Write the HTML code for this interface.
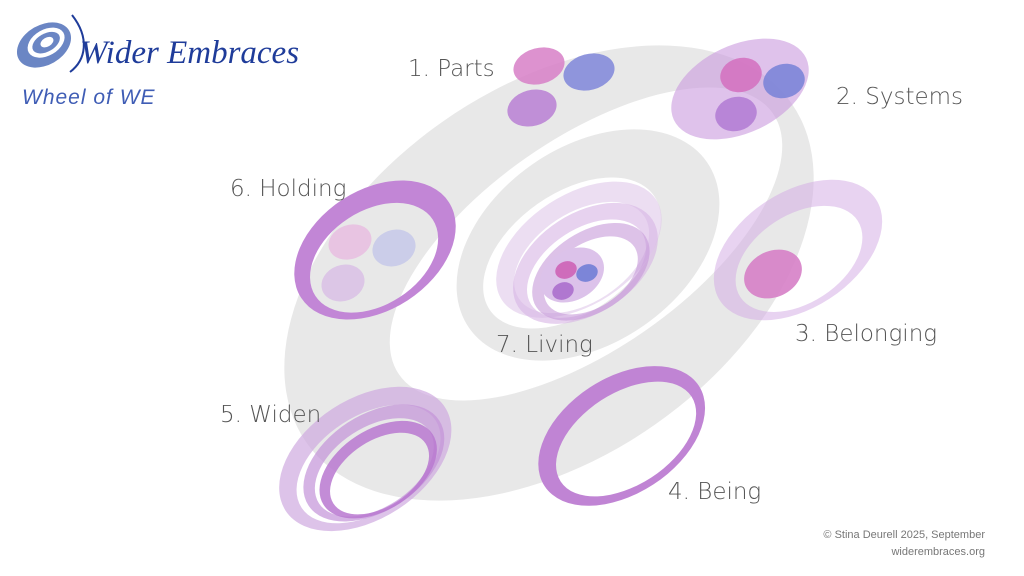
<!DOCTYPE html>
<html><head><meta charset="utf-8"><style>
body{margin:0;background:#fff;width:1024px;height:576px;overflow:hidden;font-family:"Liberation Sans",sans-serif}
svg{display:block}
</style></head><body>
<svg width="1024" height="576" viewBox="0 0 1024 576" xmlns="http://www.w3.org/2000/svg">
<!-- grey spiral -->
<ellipse cx="549" cy="273" rx="296" ry="185" fill="#e8e8e8" transform="rotate(-35 549 273)"/>
<ellipse cx="586" cy="244" rx="228" ry="105" fill="#fff" transform="rotate(-35 586 244)"/>
<ellipse cx="588" cy="245" rx="145" ry="98" fill="#e8e8e8" transform="rotate(-35 588 245)"/>
<ellipse cx="572" cy="253" rx="100" ry="60" fill="#fff" transform="rotate(-35 572 253)"/>
<!-- Parts -->
<ellipse cx="539" cy="66" rx="26" ry="18" fill="#d77fc7" opacity=".85" transform="rotate(-15 539 66)"/>
<ellipse cx="589" cy="72" rx="26" ry="18" fill="#7f86d9" opacity=".85" transform="rotate(-15 589 72)"/>
<ellipse cx="532" cy="108" rx="25" ry="18" fill="#b87fd3" opacity=".85" transform="rotate(-15 532 108)"/>
<!-- Systems -->
<ellipse cx="740" cy="89" rx="73" ry="44" fill="#c99ade" opacity=".6" transform="rotate(-25 740 89)"/>
<ellipse cx="741" cy="75" rx="21" ry="17" fill="#d36fbe" opacity=".85" transform="rotate(-15 741 75)"/>
<ellipse cx="784" cy="81" rx="21" ry="17" fill="#7c85d8" opacity=".9" transform="rotate(-15 784 81)"/>
<ellipse cx="736" cy="114" rx="21" ry="17" fill="#b27ad3" opacity=".85" transform="rotate(-15 736 114)"/>
<!-- Belonging -->
<g transform="rotate(-33 798 250)" opacity=".5">
<path fill-rule="evenodd" fill="#d2a7e3" d="M705,250 a93,58 0 1,0 186,0 a93,58 0 1,0 -186,0 Z M724,258 a70,44 0 1,0 140,0 a70,44 0 1,0 -140,0 Z"/>
</g>
<ellipse cx="773" cy="274" rx="30" ry="23" fill="#d67fc6" opacity=".9" transform="rotate(-25 773 274)"/>
<!-- Holding -->
<g transform="rotate(-33 375 250)">
<path fill-rule="evenodd" fill="#c286d6" d="M287,250 a88,60 0 1,0 176,0 a88,60 0 1,0 -176,0 Z M300,256 a70,47 0 1,0 140,0 a70,47 0 1,0 -140,0 Z"/>
</g>
<ellipse cx="350" cy="242" rx="22" ry="17" fill="#e8c4e2" transform="rotate(-20 350 242)"/>
<ellipse cx="394" cy="248" rx="22" ry="18" fill="#cbcde9" transform="rotate(-20 394 248)"/>
<ellipse cx="343" cy="283" rx="22" ry="18" fill="#dcc6e6" transform="rotate(-20 343 283)"/>
<!-- Being -->
<g transform="rotate(-33 620 437)">
<path fill-rule="evenodd" fill="#c084d4" d="M530,437 a92,58 0 1,0 184,0 a92,58 0 1,0 -184,0 Z M546,442 a78,46 0 1,0 156,0 a78,46 0 1,0 -156,0 Z"/>
</g>
<!-- Widen -->
<g transform="rotate(-33 360 460)">
<path fill-rule="evenodd" fill="#ceaadf" opacity=".7" d="M270,462 a95,60 0 1,0 190,0 a95,60 0 1,0 -190,0 Z M285,468 a80,48 0 1,0 160,0 a80,48 0 1,0 -160,0 Z"/>
<path fill-rule="evenodd" fill="#c393d8" opacity=".7" d="M292,470 a78,48 0 1,0 156,0 a78,48 0 1,0 -156,0 Z M302,474 a66,40 0 1,0 132,0 a66,40 0 1,0 -132,0 Z"/>
<path fill-rule="evenodd" fill="#b878d0" opacity=".85" d="M305,478 a65,40 0 1,0 130,0 a65,40 0 1,0 -130,0 Z M314,482 a55,33 0 1,0 110,0 a55,33 0 1,0 -110,0 Z"/>
</g>
<!-- Living -->
<g transform="rotate(-33 580 255)">
<path fill-rule="evenodd" fill="#e0c8ea" opacity=".6" d="M490,250 a92,55 0 1,0 184,0 a92,55 0 1,0 -184,0 Z M505,258 a75,45 0 1,0 150,0 a75,45 0 1,0 -150,0 Z"/>
<path fill-rule="evenodd" fill="#d7b4e4" opacity=".6" d="M500,265 a80,50 0 1,0 160,0 a80,50 0 1,0 -160,0 Z M512,270 a66,40 0 1,0 132,0 a66,40 0 1,0 -132,0 Z"/>
<path fill-rule="evenodd" fill="#c79ad9" opacity=".6" d="M515,275 a65,40 0 1,0 130,0 a65,40 0 1,0 -130,0 Z M526,278 a52,32 0 1,0 104,0 a52,32 0 1,0 -104,0 Z"/>
</g>
<ellipse cx="572" cy="275" rx="34" ry="25" fill="#dcc2ea" transform="rotate(-30 572 275)"/>
<ellipse cx="566" cy="270" rx="11" ry="8.5" fill="#cf6cbb" transform="rotate(-20 566 270)"/>
<ellipse cx="587" cy="273" rx="11" ry="8.5" fill="#7c85d8" transform="rotate(-20 587 273)"/>
<ellipse cx="563" cy="291" rx="11" ry="8.5" fill="#b077d0" transform="rotate(-20 563 291)"/>
<!-- logo swirl -->
<g transform="rotate(-30 44 45)">
<ellipse cx="44" cy="45" rx="29" ry="20" fill="#6b86c4"/>
<ellipse cx="47" cy="44" rx="20" ry="13" fill="#fff"/>
<ellipse cx="47" cy="44" rx="15" ry="9" fill="#6b86c4"/>
<ellipse cx="48" cy="44" rx="7" ry="4.5" fill="#fff"/>
</g>
<path d="M72,15 C90,38 86,60 70,72" stroke="#1f3c9a" stroke-width="2" fill="none"/>
<text x="80" y="63" font-size="33" font-family="Liberation Serif,serif" font-style="italic" fill="#1f3c9a">Wider Embraces</text>
<text x="22" y="104" font-size="21" fill="#3f5db5" font-style="italic" font-family="Liberation Sans,sans-serif" letter-spacing="1">Wheel of WE</text>
<g font-family="DejaVu Sans,Liberation Sans,sans-serif" font-size="23" fill="#555" font-weight="300">
<text x="408" y="76">1. Parts</text>
<text x="836" y="104">2. Systems</text>
<text x="795" y="341">3. Belonging</text>
<text x="668" y="499">4.  Being</text>
<text x="220" y="422">5. Widen</text>
<text x="230" y="196">6. Holding</text>
<text x="496" y="352">7. Living</text>
</g>
<g font-family="Liberation Sans,sans-serif" font-size="11" fill="#777" text-anchor="end">
<text x="985" y="538">© Stina Deurell 2025, September</text>
<text x="985" y="555">widerembraces.org</text>
</g>
</svg>
</body></html>
